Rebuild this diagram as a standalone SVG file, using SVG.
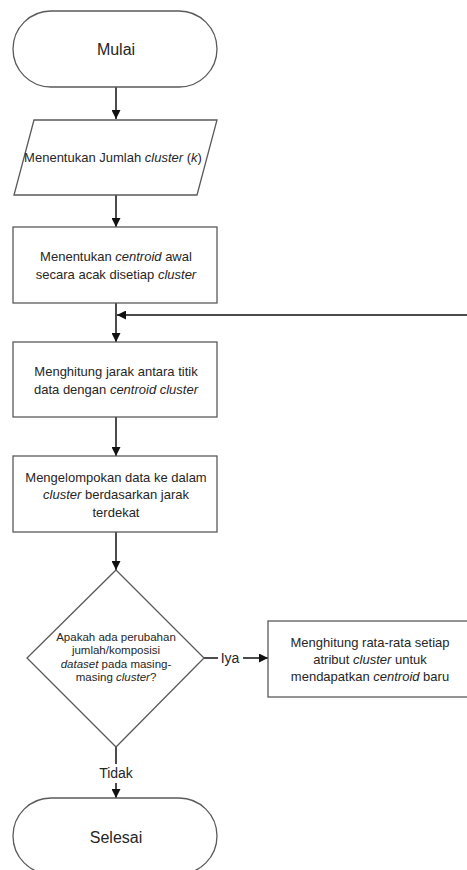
<svg xmlns="http://www.w3.org/2000/svg" width="467" height="870" viewBox="0 0 467 870">
<style>
.shape{fill:#fff;stroke:#5a5a5a;stroke-width:1.3}
.conn{fill:none;stroke:#111;stroke-width:1.5}
text{font-family:"Liberation Sans",Arial,sans-serif;fill:#262626;text-anchor:middle}
.t{font-size:13px}
.s{font-size:11.5px}
.big{font-size:16px}
.lbl{font-size:14px}
.i{font-style:italic}
</style>
<defs>
<marker id="arr" viewBox="0 0 10 10" refX="10" refY="5" markerWidth="9" markerHeight="9" markerUnits="userSpaceOnUse" orient="auto">
<path d="M0,0 L10,5 L0,10 z" fill="#111"/>
</marker>
</defs>
<rect width="467" height="870" fill="#fff"/>
<g id="connectors">
<path class="conn" d="M116,87 V119" marker-end="url(#arr)"/>
<path class="conn" d="M116,195 V227" marker-end="url(#arr)"/>
<path class="conn" d="M116,303 V342" marker-end="url(#arr)"/>
<path class="conn" d="M470,315 H117" marker-end="url(#arr)"/>
<path class="conn" d="M116,417 V456" marker-end="url(#arr)"/>
<path class="conn" d="M116,532 V570" marker-end="url(#arr)"/>
<path class="conn" d="M204,658 H218"/>
<path class="conn" d="M243,658 H268" marker-end="url(#arr)"/>
<path class="conn" d="M116,747 V764"/>
<path class="conn" d="M116,783 V798" marker-end="url(#arr)"/>
<text class="lbl" x="230" y="663">Iya</text>
<text class="lbl" x="116" y="778">Tidak</text>
</g>
<g id="mulai">
<rect class="shape" x="13" y="11" width="204" height="76" rx="38" ry="38"/>
<text class="big" x="116" y="55">Mulai</text>
</g>
<g id="input-k">
<polygon class="shape" points="34,120 217,120 197,195 14,195"/>
<text class="t" x="113" y="162" font-size="12.5">Menentukan Jumlah <tspan class="i">cluster</tspan> (<tspan class="i">k</tspan>)</text>
</g>
<g id="init-centroid">
<rect class="shape" x="13" y="227" width="204" height="76"/>
<text class="t" x="116" y="261">Menentukan <tspan class="i">centroid</tspan> awal</text>
<text class="t" x="116" y="279">secara acak disetiap <tspan class="i">cluster</tspan></text>
</g>
<g id="hitung-jarak">
<rect class="shape" x="13" y="342" width="204" height="75"/>
<text class="t" x="116" y="376">Menghitung jarak antara titik</text>
<text class="t" x="116" y="394">data dengan <tspan class="i">centroid cluster</tspan></text>
</g>
<g id="kelompok">
<rect class="shape" x="13" y="456" width="204" height="76"/>
<text class="t" x="116" y="482">Mengelompokan data ke dalam</text>
<text class="t" x="116" y="499"><tspan class="i">cluster</tspan> berdasarkan jarak</text>
<text class="t" x="116" y="516.5">terdekat</text>
</g>
<g id="keputusan">
<polygon class="shape" points="116,570 204,658 116,747 27,658"/>
<text class="s" x="116" y="641">Apakah ada perubahan</text>
<text class="s" x="116" y="654">jumlah/komposisi</text>
<text class="s" x="116" y="667.5"><tspan class="i">dataset</tspan> pada masing-</text>
<text class="s" x="116" y="681">masing <tspan class="i">cluster</tspan>?</text>
</g>
<g id="hitung-rata">
<rect class="shape" x="268" y="621" width="204" height="76"/>
<text class="t" x="370" y="646.5">Menghitung rata-rata setiap</text>
<text class="t" x="370" y="663.5">atribut <tspan class="i">cluster</tspan> untuk</text>
<text class="t" x="370" y="680.5">mendapatkan <tspan class="i">centroid</tspan> baru</text>
</g>
<g id="selesai">
<rect class="shape" x="13" y="798" width="204" height="76" rx="38" ry="38"/>
<text class="big" x="116" y="843">Selesai</text>
</g>
</svg>
